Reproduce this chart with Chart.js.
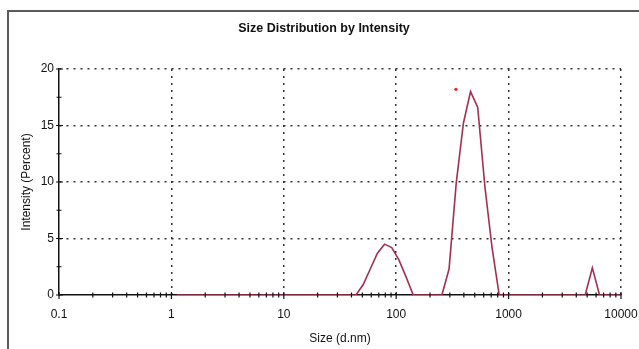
<!DOCTYPE html>
<html><head><meta charset="utf-8">
<script src="https://cdn.jsdelivr.net/npm/chart.js@4"></script>
<style>html,body{margin:0;padding:0;background:#fff}canvas{display:block}</style>
</head><body>
<canvas id="c" width="639" height="349"></canvas>
<script>
// Size bins (d.nm) and intensity (%)
const sizes = [1.117, 1.294, 1.499, 1.736, 2.010, 2.328, 2.696, 3.122, 3.615, 4.187, 4.849, 5.615, 6.503, 7.531, 8.721,
  10.10, 11.70, 13.54, 15.69, 18.17, 21.04, 24.36, 28.21, 32.67, 37.84, 43.82, 50.75, 58.77, 68.06, 78.82, 91.28,
  105.7, 122.4, 141.8, 164.2, 190.1, 220.2, 255.0, 295.3, 342.0, 396.1, 458.7, 531.2, 615.1, 712.4, 825.0, 955.4,
  1106, 1281, 1484, 1718, 1990, 2305, 2669, 3091, 3580, 4145, 4801, 5560, 6439, 7456, 8635, 10000];
const intensity = [0, 0, 0, 0, 0, 0, 0, 0, 0, 0, 0, 0, 0, 0, 0,
  0, 0, 0, 0, 0, 0, 0, 0, 0, 0, 0, 0.9, 2.3, 3.7, 4.5, 4.2,
  3.1, 1.6, 0, 0, 0, 0, 0, 2.3, 9.9, 15.2, 18.0, 16.6, 9.6, 4.2, 0, 0,
  0, 0, 0, 0, 0, 0, 0, 0, 0, 0, 0, 2.4, 0, 0, 0, 0];
const markerSize = [340];
const markerValue = [18.2];
const xTickValues = [0.1, 1, 10, 100, 1000, 10000];
const yTickValues = [0, 5, 10, 15, 20];
const yMinorValues = [2.5, 7.5, 12.5, 17.5];
const xMinorMultipliers = [2, 3, 4, 5, 6, 7, 8, 9];

const FONT = "'Liberation Sans', Arial, sans-serif";

const framePlugin = {
  id: 'frame',
  beforeDraw(chart) {
    const ctx = chart.ctx;
    ctx.save();
    ctx.fillStyle = '#fff';
    ctx.fillRect(0, 0, chart.width, chart.height);
    ctx.strokeStyle = '#5a5a5a';
    ctx.lineWidth = 2;
    ctx.beginPath();
    ctx.moveTo(8, chart.height);
    ctx.lineTo(8, 11);
    ctx.lineTo(chart.width, 11);
    ctx.stroke();
    ctx.restore();
  }
};

const axisTicks = {
  id: 'axisTicks',
  afterDatasetsDraw(chart) {
    const {ctx, scales: {x, y}} = chart;
    ctx.save();
    ctx.strokeStyle = '#111';
    ctx.lineWidth = 1.2;
    ctx.beginPath();
    const by = y.getPixelForValue(0);
    for (const d of xTickValues) {
      const px = x.getPixelForValue(d);
      ctx.moveTo(px, by - 3); ctx.lineTo(px, by + 4);
      if (d < 10000) {
        for (const m of xMinorMultipliers) {
          const p = x.getPixelForValue(d * m);
          ctx.moveTo(p, by - 2.5); ctx.lineTo(p, by + 2.5);
        }
      }
    }
    const lx = x.getPixelForValue(0.1);
    for (const v of yTickValues) {
      const py = y.getPixelForValue(v);
      ctx.moveTo(lx - 3, py); ctx.lineTo(lx + 4, py);
    }
    for (const v of yMinorValues) {
      const py = y.getPixelForValue(v);
      ctx.moveTo(lx - 2.5, py); ctx.lineTo(lx + 2.5, py);
    }
    ctx.stroke();
    ctx.restore();
  }
};

new Chart(document.getElementById('c'), {
  type: 'line',
  data: {
    datasets: [
      {
        data: sizes.map((s, i) => ({x: s, y: intensity[i]})),
        borderColor: '#a3304f',
        borderWidth: 1.6,
        pointRadius: 0,
        tension: 0,
        fill: false
      },
      {
        type: 'scatter',
        data: markerSize.map((s, i) => ({x: s, y: markerValue[i]})),
        pointRadius: 1.7,
        backgroundColor: '#e52a2a',
        borderWidth: 0
      }
    ]
  },
  options: {
    responsive: false,
    devicePixelRatio: 1,
    animation: false,
    layout: {padding: {left: 9, right: 0, top: 0, bottom: 0}},
    plugins: {
      legend: {display: false},
      tooltip: {enabled: false},
      title: {
        display: true,
        text: 'Size Distribution by Intensity',
        color: '#111',
        font: {family: FONT, size: 12.5, weight: 'bold'},
        padding: {top: 21, bottom: 33}
      }
    },
    scales: {
      x: {
        type: 'logarithmic',
        min: 0.1, max: 10000,
        afterBuildTicks: s => { s.ticks = xTickValues.map(v => ({value: v})); },
        afterFit: s => { s.height = 54; s.paddingLeft = 0; s.paddingRight = 18; },
        ticks: {
          autoSkip: false, maxRotation: 0, padding: 12, color: '#111',
          font: {family: FONT, size: 12},
          callback: v => String(v)
        },
        grid: {
          drawTicks: false,
          color: c => (c.tick && c.tick.value === 0.1) ? 'rgba(0,0,0,0)' : '#333',
          lineWidth: 1.5
        },
        border: {display: true, color: '#111', width: 1.5, dash: [2, 5]},
        title: {
          display: true, text: 'Size (d.nm)', color: '#111',
          font: {family: FONT, size: 12}, padding: {top: 3, bottom: 3}
        }
      },
      y: {
        min: 0, max: 20,
        afterBuildTicks: s => { s.ticks = yTickValues.map(v => ({value: v})); },
        afterFit: s => { s.width = 50; },
        ticks: {
          padding: 5, color: '#111',
          font: {family: FONT, size: 12}
        },
        grid: {
          drawTicks: false,
          color: c => (c.tick && c.tick.value === 0) ? 'rgba(0,0,0,0)' : '#333',
          lineWidth: 1.5
        },
        border: {display: true, color: '#111', width: 1.5, dash: [2, 5]},
        title: {
          display: true, text: 'Intensity (Percent)', color: '#111',
          font: {family: FONT, size: 12}, padding: {top: 10, bottom: 0}
        }
      }
    }
  },
  plugins: [framePlugin, axisTicks]
});
</script>
</body></html>
